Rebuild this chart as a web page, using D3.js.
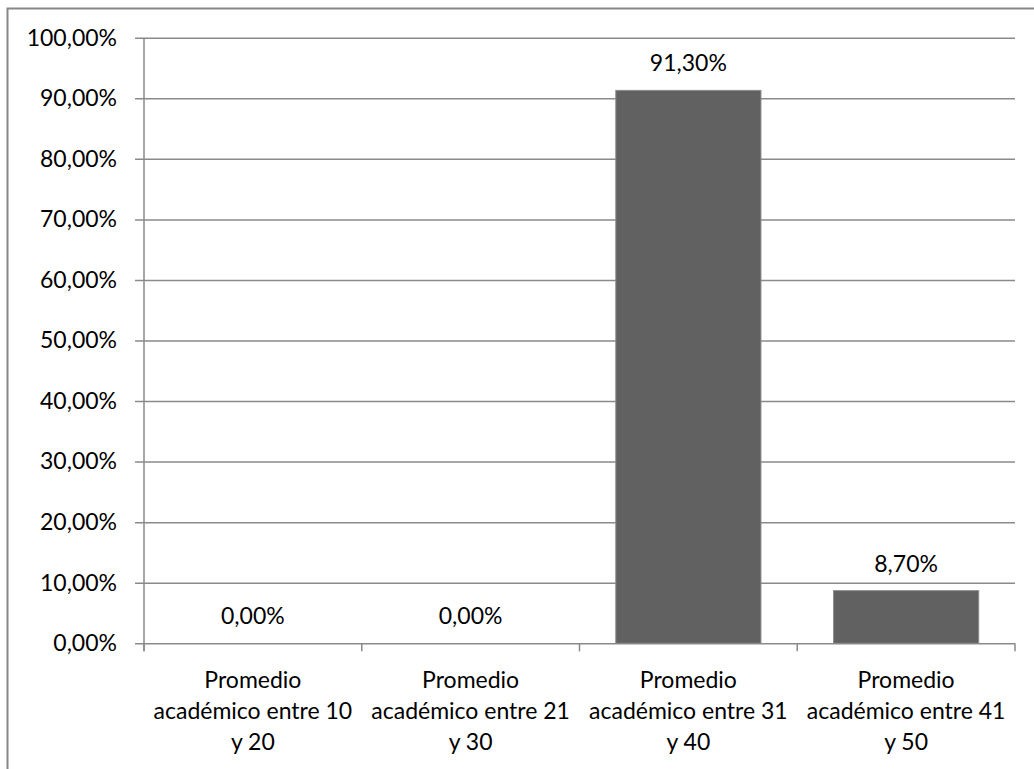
<!DOCTYPE html>
<html>
<head>
<meta charset="utf-8">
<script src="https://cdn.jsdelivr.net/npm/d3@7"></script>
<style>
  body { margin: 0; background: #fff; }
  svg text { font-family: Lato, "Open Sans", sans-serif; font-size: 23px; fill: #000; }
</style>
</head>
<body>
<div id="chart"></div>
<script>
// Bar chart: share of students by academic average range

const categories = [
    'Promedio académico entre 10 y 20',
    'Promedio académico entre 21 y 30',
    'Promedio académico entre 31 y 40',
    'Promedio académico entre 41 y 50'
];
// how each category label is broken over lines in the chart
const categoryLines = [
    ['Promedio', 'académico entre 10', 'y 20'],
    ['Promedio', 'académico entre 21', 'y 30'],
    ['Promedio', 'académico entre 31', 'y 40'],
    ['Promedio', 'académico entre 41', 'y 50']
];
const shares = [0, 0, 0.913, 0.087];
const yTicks = [0, 0.1, 0.2, 0.3, 0.4, 0.5, 0.6, 0.7, 0.8, 0.9, 1];

const W = 1034, H = 769;
const margin = { top: 37.7, left: 144, right: 19, bottom: 125.7 };
const width = W - margin.left - margin.right;
const height = H - margin.top - margin.bottom;

const locale = d3.formatLocale({ decimal: ',', thousands: '.', grouping: [3], currency: ['', '€'] });
const pct = locale.format('.2%');

const svg = d3.select('#chart').append('svg')
    .attr('width', W)
    .attr('height', H);

// outer chart frame (runs past the window on right and bottom)
svg.append('rect')
    .attr('x', 7.5).attr('y', 8.5)
    .attr('width', W + 20).attr('height', H + 20)
    .attr('fill', 'none')
    .attr('stroke', '#878787')
    .attr('stroke-width', 2);

const g = svg.append('g')
    .attr('transform', `translate(${margin.left},${margin.top})`);

// Scales
const x = d3.scaleBand()
    .domain(categories)
    .range([0, width])
    .paddingInner(1 / 3)
    .paddingOuter(1 / 6);

const y = d3.scaleLinear()
    .domain([0, 1])
    .range([height, 0]);

// Gridlines with small outside ticks
g.append('g')
    .attr('class', 'grid')
    .attr('transform', 'translate(-9,0)')
    .call(d3.axisLeft(y).tickValues(yTicks).tickSize(-(width + 9)).tickFormat(''))
    .call(a => a.select('.domain').remove())
    .call(a => a.selectAll('line').attr('stroke', '#8a8a8a').attr('stroke-width', 1.5));

// Y labels
g.append('g')
    .attr('class', 'y-axis')
    .call(d3.axisLeft(y).tickValues(yTicks).tickSize(0).tickPadding(27).tickFormat(pct))
    .call(a => a.select('.domain').remove())
    .call(a => a.selectAll('text').attr('font-family', null).attr('font-size', null));

// Y axis line
g.append('line')
    .attr('x1', 0).attr('x2', 0)
    .attr('y1', y(1)).attr('y2', height + 8)
    .attr('stroke', '#8a8a8a')
    .attr('stroke-width', 1.5);

// Category boundary ticks
const bounds = d3.range(categories.length + 1).map(i => i * x.step());
g.selectAll('.xtick')
    .data(bounds)
    .join('line')
    .attr('class', 'xtick')
    .attr('x1', d => d).attr('x2', d => d)
    .attr('y1', height).attr('y2', height + 8)
    .attr('stroke', '#8a8a8a')
    .attr('stroke-width', 1.5);

// Bars
g.selectAll('.bar')
    .data(shares)
    .join('rect')
    .attr('class', 'bar')
    .attr('x', (d, i) => x(categories[i]))
    .attr('y', d => y(d))
    .attr('width', x.bandwidth())
    .attr('height', d => height - y(d))
    .attr('fill', '#616161')
    .attr('stroke', d => d > 0 ? '#8c8c8c' : 'none')
    .attr('stroke-width', 1);

// Value labels
g.selectAll('.val')
    .data(shares)
    .join('text')
    .attr('class', 'val')
    .attr('x', (d, i) => x(categories[i]) + x.bandwidth() / 2)
    .attr('y', d => y(d) - 19)
    .attr('text-anchor', 'middle')
    .text(d => pct(d));

// Category labels
categories.forEach((c, ci) => {
    const cx = x(c) + x.bandwidth() / 2;
    const t = g.append('text')
        .attr('class', 'cat')
        .attr('text-anchor', 'middle')
        .attr('x', cx)
        .attr('y', height + 45);
    categoryLines[ci].forEach((l, i) => {
        t.append('tspan')
            .attr('x', cx)
            .attr('dy', i === 0 ? 0 : 31)
            .text(l);
    });
});
</script>
</body>
</html>
